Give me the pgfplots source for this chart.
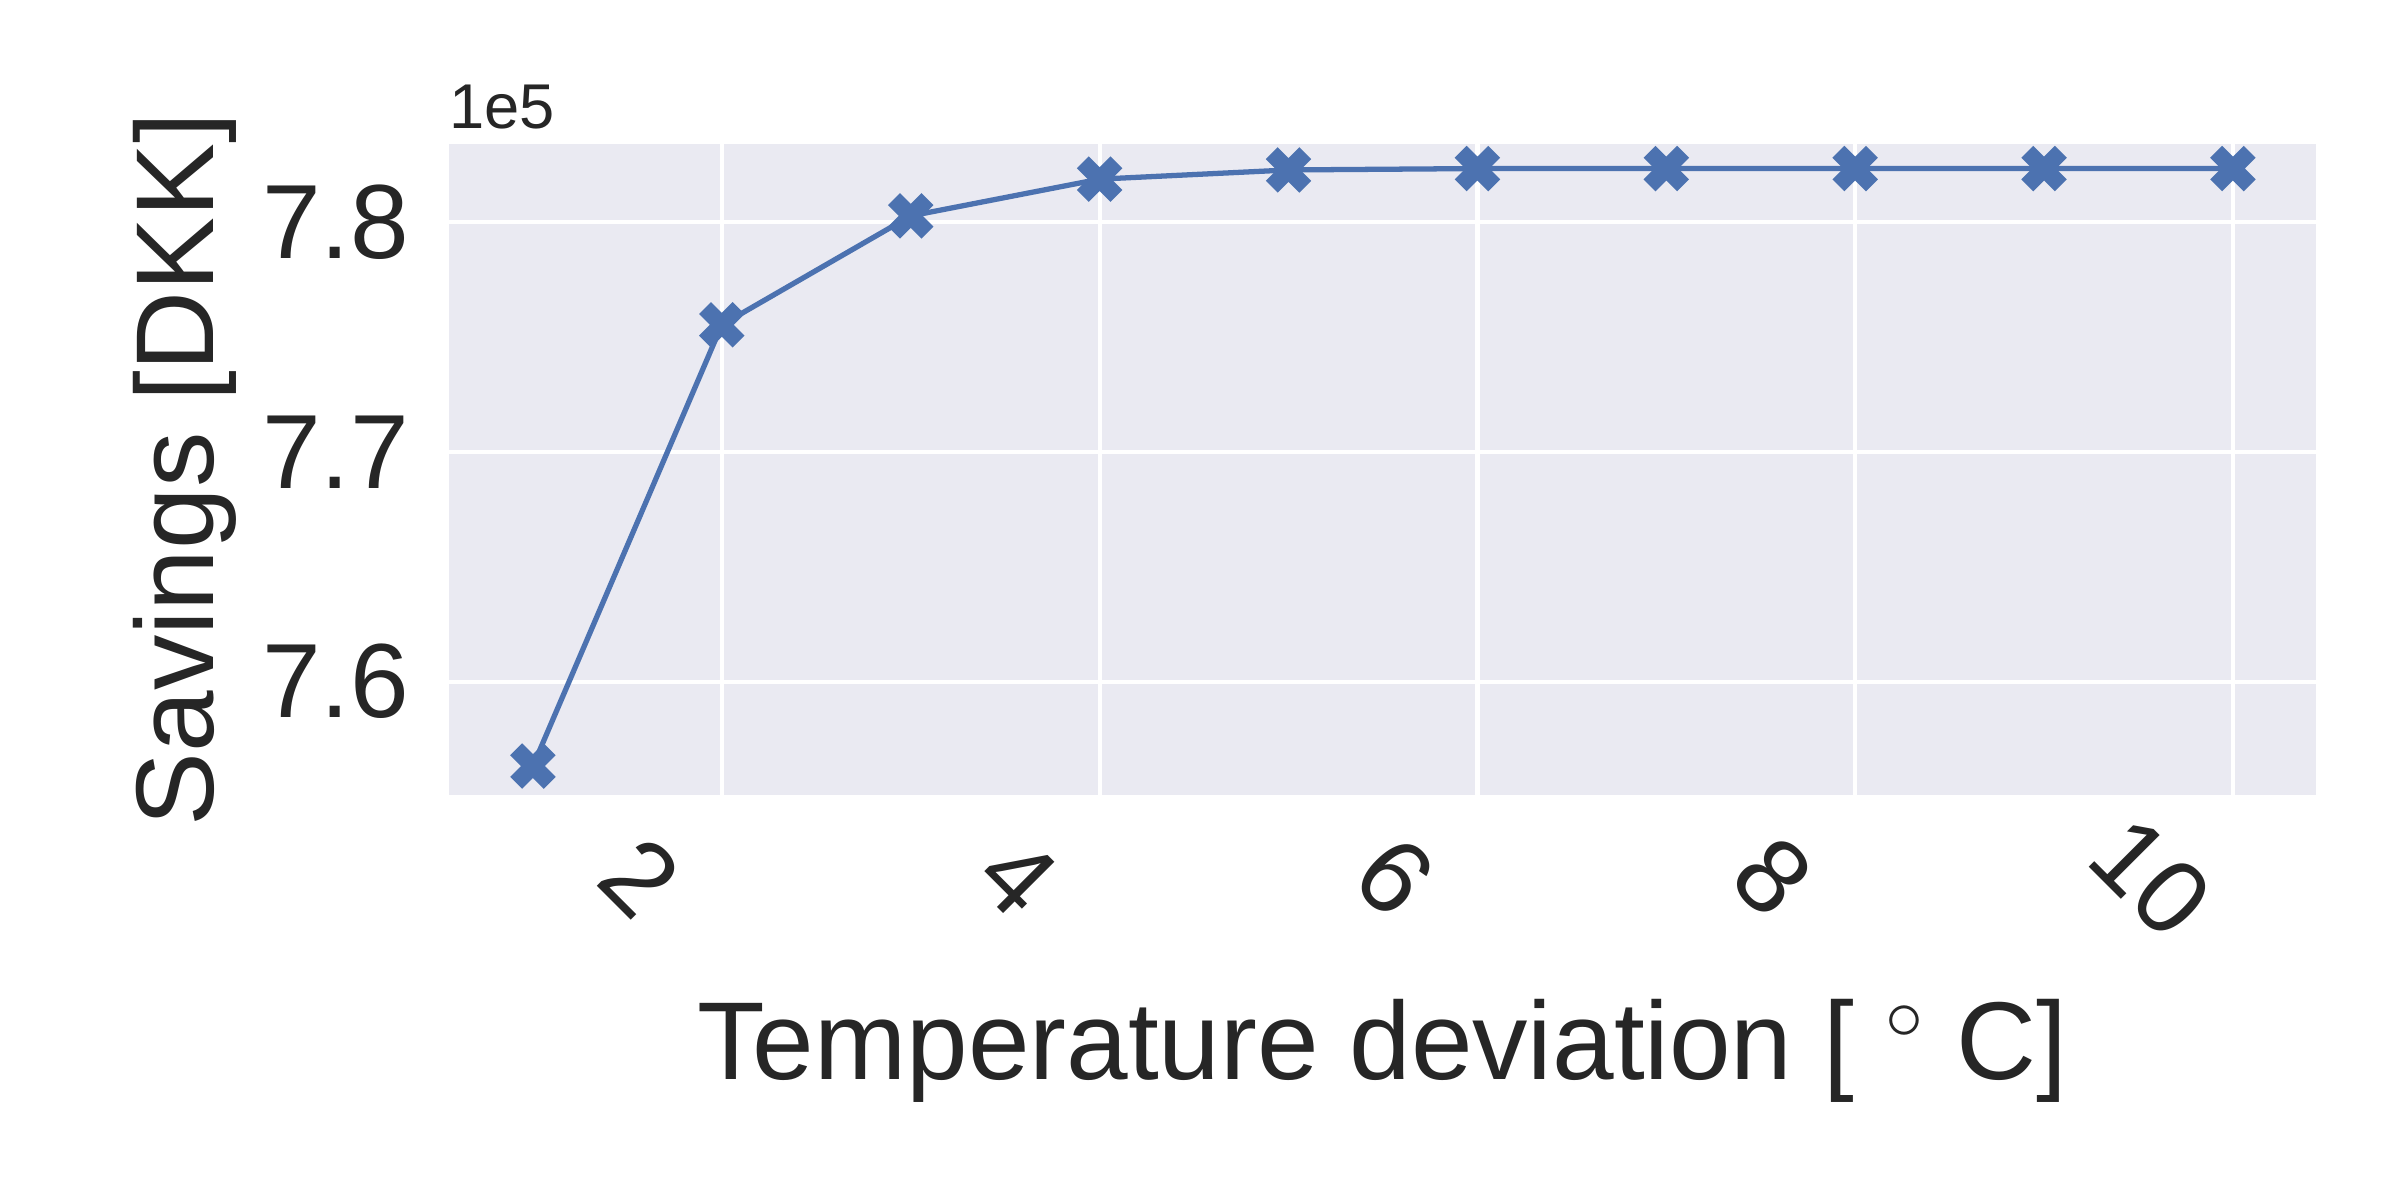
\documentclass[border=0pt]{standalone}
\usepackage{pgfplots}
\pgfplotsset{compat=1.18}
\usepackage{fontspec}
\setmainfont{Liberation Sans}
\definecolor{bg}{HTML}{EAEAF2}
\definecolor{sb}{HTML}{4C72B0}
\definecolor{tx}{HTML}{262626}
\begin{document}
\begin{tikzpicture}
\useasboundingbox (0,0) rectangle (16cm,8cm);
\begin{axis}[at={(2.99cm,2.70cm)},anchor=south west,
  scale only axis, width=12.45cm, height=4.34cm,
  xmin=0.553, xmax=10.44, ymin=7.5507, ymax=7.834,
  axis background/.style={fill=bg}, axis line style={draw=none},
  grid=major, major grid style={white, line width=0.8pt},
  tick style={draw=none},
  xtick={2,4,6,8,10}, ytick={7.6,7.7,7.8},
  yticklabel style={/pgf/number format/fixed,/pgf/number format/precision=1, xshift=-4pt},
  /pgf/number format/assume math mode=true,
  ticklabel style={font=\fontsize{20}{24}\selectfont, text=tx},
  xticklabel style={rotate=-45, anchor=center, yshift=-22pt},
  label style={font=\fontsize{21}{25}\selectfont, text=tx},
  xlabel={Temperature deviation [ $^\circ$ C]},
  ylabel={Savings [DKK]},
  xlabel style={yshift=-2pt},
  ylabel style={yshift=-2pt},
]
\addplot[sb, line width=1pt, mark=x, mark size=4.5pt, mark options={line width=3.2pt}]
coordinates {(1,7.5633)(2,7.7553)(3,7.8027)(4,7.8187)(5,7.8227)(6,7.8233)(7,7.8233)(8,7.8233)(9,7.8233)(10,7.8233)};
\end{axis}
\node[anchor=south west, text=tx, font=\fontsize{12}{14}\selectfont, inner sep=0] at (2.99cm,7.13cm) {1e5};
\end{tikzpicture}
\end{document}
